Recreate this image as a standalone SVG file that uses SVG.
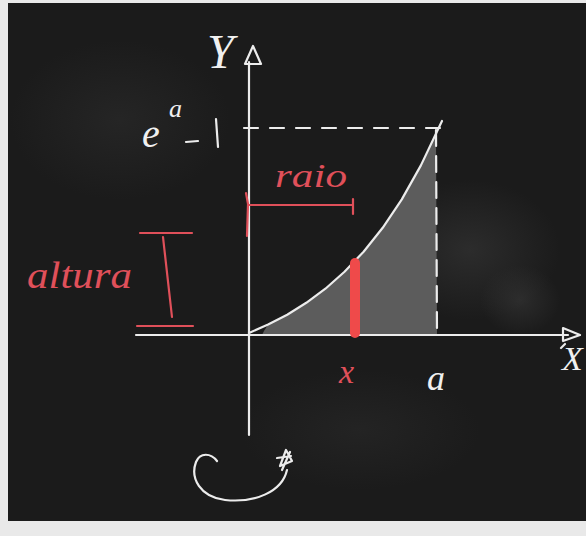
<svg xmlns="http://www.w3.org/2000/svg" width="586" height="536" viewBox="0 0 586 536">
<style>
.chalk{fill:none;stroke:#ececec;stroke-width:2.2;stroke-linecap:round;stroke-linejoin:round}
.red{fill:none;stroke:#e0505a;stroke-width:2.2;stroke-linecap:round;stroke-linejoin:round}
.wt{fill:#f0f0f0;font-family:"Liberation Serif",serif;font-style:italic}
.rt{fill:#e0505a;font-family:"Liberation Serif",serif;font-style:italic}
</style>
<defs>
<radialGradient id="smudge" cx="0.5" cy="0.5" r="0.5">
<stop offset="0" stop-color="#3a3a3a" stop-opacity="0.55"/>
<stop offset="1" stop-color="#3a3a3a" stop-opacity="0"/>
</radialGradient>
</defs>
<rect x="0" y="0" width="586" height="536" fill="#e9e9e9"/>
<rect x="8" y="3" width="578" height="518" fill="#1b1b1b"/>
<ellipse cx="470" cy="250" rx="90" ry="70" fill="url(#smudge)"/>
<ellipse cx="520" cy="300" rx="40" ry="35" fill="url(#smudge)"/>
<ellipse cx="120" cy="120" rx="110" ry="80" fill="url(#smudge)" opacity="0.6"/>
<ellipse cx="360" cy="430" rx="120" ry="60" fill="url(#smudge)" opacity="0.5"/>

<g id="area">
<polygon points="264,331 268.1,324.6 287.2,314.7 306.3,302.8 325.4,288.7 344.5,271.8 363.6,251.7 382.7,227.8 401.8,199.4 420.9,165.4 436,133 437,335 262,335" fill="#5c5c5c"/>
</g>

<g id="axes">
<line class="chalk" x1="136" y1="335" x2="568" y2="335"/>
<line class="chalk" x1="249" y1="62" x2="249" y2="435"/>
<polygon class="chalk" points="245,64 253,46 261,64" fill="#d8d8d8" fill-opacity="0.6"/>
<polygon class="chalk" points="563,328 580,335 563,341" fill="#d8d8d8" fill-opacity="0.6"/>
<path class="chalk" d="M565,344 L561,348"/>
</g>

<g id="guides">
<line class="chalk" x1="244" y1="128" x2="440" y2="128" stroke-dasharray="14 12"/>
<line class="chalk" x1="436" y1="130" x2="437" y2="335" stroke-dasharray="16 10"/>
</g>

<g id="curve">
<polyline class="chalk" points="249,333 268.1,324.6 287.2,314.7 306.3,302.8 325.4,288.7 344.5,271.8 363.6,251.7 382.7,227.8 401.8,199.4 420.9,165.4 442,121"/>
</g>

<g id="slice">
<line x1="355" y1="263" x2="355" y2="333" stroke="#ef4a4a" stroke-width="10" stroke-linecap="round"/>
</g>

<g id="raio">
<line class="red" x1="249" y1="205" x2="353" y2="205"/>
<line class="red" x1="353" y1="199" x2="353" y2="214"/>
<path class="red" d="M246,193 L248,204 L247,236"/>
<text class="rt" x="275" y="187" font-size="34" textLength="72" lengthAdjust="spacingAndGlyphs">raio</text>
</g>

<g id="altura">
<line class="red" x1="140" y1="233" x2="192" y2="233"/>
<line class="red" x1="163" y1="237" x2="172" y2="317"/>
<line class="red" x1="137" y1="326" x2="193" y2="326"/>
<text class="rt" x="27" y="288" font-size="38" textLength="105" lengthAdjust="spacingAndGlyphs">altura</text>
</g>

<g id="labels">
<text class="wt" x="207" y="68" font-size="48">Y</text>
<text class="wt" x="142" y="147" font-size="40">e</text>
<text class="wt" x="169" y="117" font-size="26">a</text>
<line class="chalk" x1="186" y1="142" x2="198" y2="141"/>
<path class="chalk" d="M216,119 L217,133 L218,147"/>
<text class="rt" x="339" y="383" font-size="34">x</text>
<text class="wt" x="427" y="390" font-size="36">a</text>
<text class="wt" x="562" y="370" font-size="34">X</text>
</g>

<g id="rotation">
<path class="chalk" d="M217,461 C211,453 200,452 196,462 C190,478 200,497 225,500 C255,503 282,492 287,470"/>
<path class="chalk" d="M280,466 L286,450 L292,461 Z M277,458 L291,456 M282,470 L290,452" fill="#d8d8d8" fill-opacity="0.5"/>
</g>
</svg>
